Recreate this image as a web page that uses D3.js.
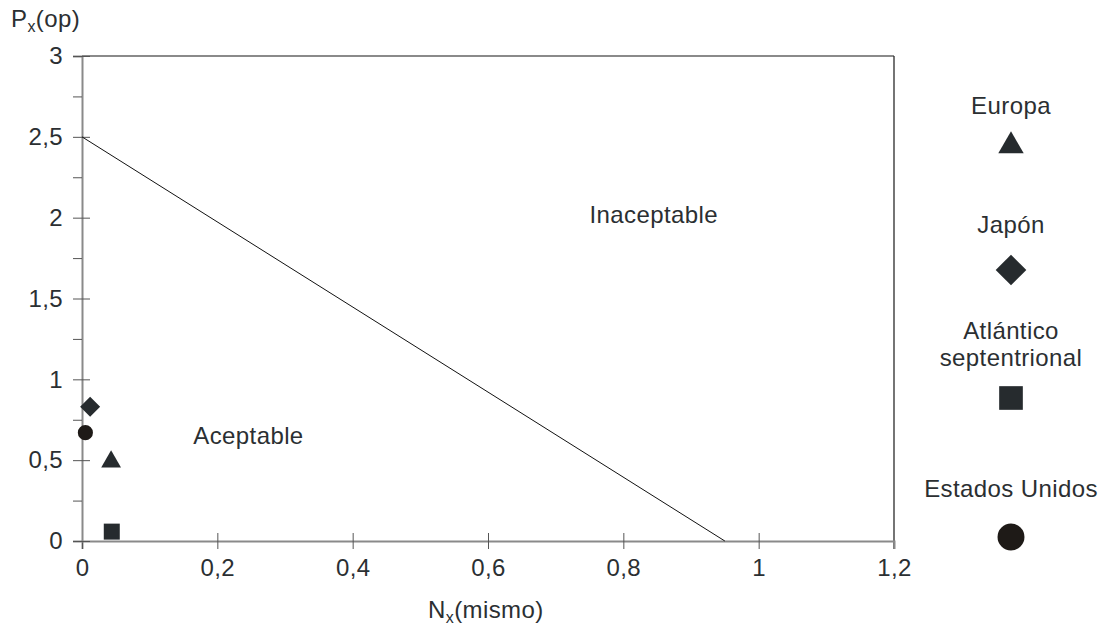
<!DOCTYPE html>
<html lang="es">
<head>
<meta charset="UTF-8">
<title>Px(op) frente a Nx(mismo)</title>
<script src="https://d3js.org/d3.v7.min.js"></script>
<style>
  body { margin: 0; background: #fff; }
  text { font-family: "Liberation Sans", Arial, sans-serif; fill: #2b2f32; letter-spacing: 0.4px; }
</style>
</head>
<body>
<script>
// data
const regions = ["Europa", "Japón", "Atlántico septentrional", "Estados Unidos"];
const symbols = ["triangle", "diamond", "square", "circle"];
const nx = [0.043, 0.012, 0.044, 0.005];
const px = [0.49, 0.83, 0.058, 0.67];
const limitLine = [[0, 2.5], [0.95, 0]];
const xTicks = [0, 0.2, 0.4, 0.6, 0.8, 1, 1.2];
const yTicks = [0, 0.25, 0.5, 0.75, 1, 1.25, 1.5, 1.75, 2, 2.25, 2.5, 2.75, 3];
const zoneLabels = [
  { text: "Aceptable", x: 0.246, y: 0.6 },
  { text: "Inaceptable", x: 0.845, y: 1.967 }
];

const W = 1100, H = 625;
const mLeft = 82, mRight = 894, mTop = 56, mBottom = 541;

const svg = d3.select("body").append("svg")
  .attr("width", W).attr("height", H);

const x = d3.scaleLinear().domain([0, 1.2]).range([mLeft, mRight]);
const y = d3.scaleLinear().domain([0, 3]).range([mBottom, mTop]);

const loc = d3.formatLocale({ decimal: ",", thousands: ".", grouping: [3], currency: ["", "€"] });
const fmt = loc.format("~g");

// frame top and right
svg.append("line")
  .attr("x1", mLeft).attr("x2", mRight).attr("y1", mTop).attr("y2", mTop)
  .attr("stroke", "#8a8a8a").attr("stroke-width", 2);
svg.append("line")
  .attr("x1", mRight).attr("x2", mRight).attr("y1", mTop).attr("y2", mBottom + 8)
  .attr("stroke", "#2a2a2a").attr("stroke-width", 1.3);

// x axis
const gx = svg.append("g")
  .attr("transform", `translate(0,${mBottom})`)
  .call(d3.axisBottom(x).tickValues(xTicks).tickSize(8).tickPadding(10).tickFormat(fmt));
gx.select(".domain").attr("stroke", "#8a8a8a").attr("stroke-width", 2);
gx.selectAll(".tick line").attr("y1", -8).attr("stroke", "#555");
gx.selectAll(".tick text").attr("font-size", 24).attr("dy", "0.72em");
gx.selectAll(".tick").filter(d => d === 1.2).select("line").remove();

// y axis
const gy = svg.append("g")
  .attr("transform", `translate(${mLeft},0)`)
  .call(d3.axisLeft(y).tickValues(yTicks).tickSize(9).tickPadding(10)
    .tickFormat(d => (Math.round(d * 100) % 50 === 0 ? fmt(d) : "")));
gy.select(".domain").attr("stroke", "#8a8a8a").attr("stroke-width", 2);
gy.selectAll(".tick line").attr("stroke", "#555")
  .attr("x1", d => (Math.round(d * 100) % 50 === 0 ? 8 : 0));
gy.selectAll(".tick text").attr("font-size", 24);
gy.selectAll("path, line").attr("fill", "none");

// limit line
svg.append("line")
  .attr("x1", x(limitLine[0][0])).attr("y1", y(limitLine[0][1]))
  .attr("x2", x(limitLine[1][0])).attr("y2", y(limitLine[1][1]))
  .attr("stroke", "#111").attr("stroke-width", 1);

// zone labels
svg.selectAll(".zone").data(zoneLabels).enter().append("text")
  .attr("class", "zone")
  .attr("x", d => x(d.x)).attr("y", d => y(d.y))
  .attr("text-anchor", "middle").attr("font-size", 24)
  .text(d => d.text);

// diamond = square turned 45 degrees
const symType = {
  triangle: d3.symbolTriangle,
  diamond: d3.symbolSquare,
  square: d3.symbolSquare,
  circle: d3.symbolCircle
};
const rot = s => (s === "diamond" ? " rotate(45)" : "");
const fillOf = s => (s === "circle" ? "#1e1a17" : "#262b2e");

// points
const plotSize = { triangle: 170, diamond: 200, square: 256, circle: 180 };
svg.selectAll(".pt").data(regions).enter().append("path")
  .attr("class", "pt")
  .attr("transform", (d, i) => `translate(${x(nx[i])},${y(px[i])})` + rot(symbols[i]))
  .attr("d", (d, i) => d3.symbol().type(symType[symbols[i]]).size(plotSize[symbols[i]])())
  .attr("fill", (d, i) => fillOf(symbols[i]));

// legend
const legSize = { triangle: 280, diamond: 470, square: 560, circle: 570 };
const legX = 1011;
const legText = [[114], [233], [339, 366], [497]];
const legSym = [146, 270, 398, 537];
regions.forEach((r, i) => {
  const lines = i === 2 ? ["Atlántico", "septentrional"] : [r];
  lines.forEach((t, j) => {
    svg.append("text")
      .attr("x", legX).attr("y", legText[i][j])
      .attr("text-anchor", "middle").attr("font-size", 24)
      .text(t);
  });
  svg.append("path")
    .attr("transform", `translate(${legX},${legSym[i]})` + rot(symbols[i]))
    .attr("d", d3.symbol().type(symType[symbols[i]]).size(legSize[symbols[i]])())
    .attr("fill", fillOf(symbols[i]));
});

// axis titles
const yt = svg.append("text").attr("x", 11).attr("y", 27).attr("font-size", 24);
yt.append("tspan").text("P");
yt.append("tspan").attr("font-size", 16).attr("dy", 5).text("x");
yt.append("tspan").attr("dy", -5).text("(op)");

const xt = svg.append("text").attr("x", 428).attr("y", 618).attr("font-size", 24);
xt.append("tspan").text("N");
xt.append("tspan").attr("font-size", 16).attr("dy", 5).text("x");
xt.append("tspan").attr("dy", -5).text("(mismo)");
</script>
</body>
</html>
